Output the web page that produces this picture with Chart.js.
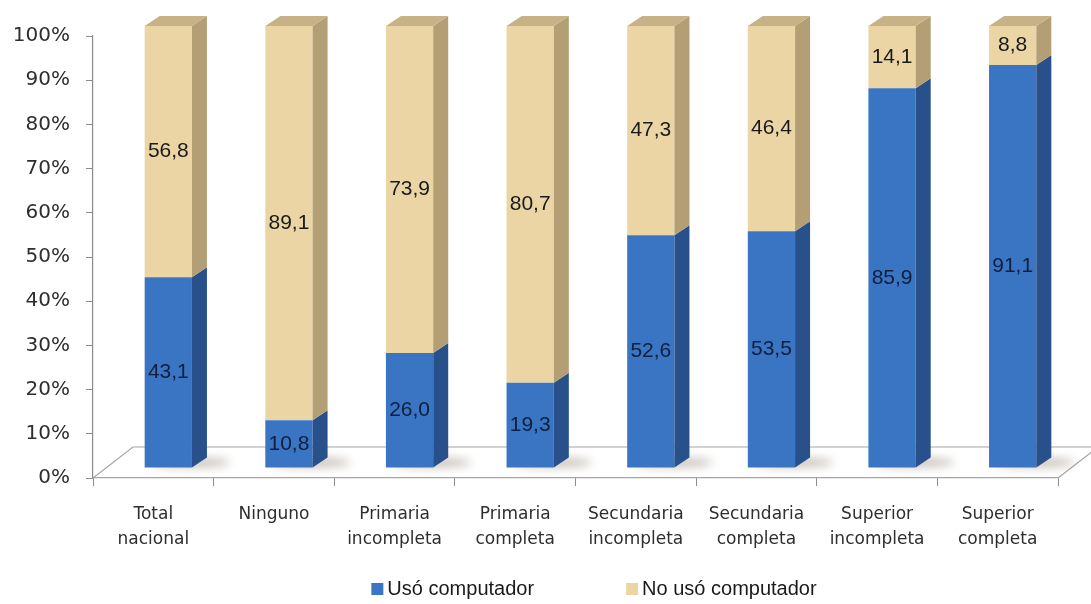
<!DOCTYPE html>
<html>
<head>
<meta charset="utf-8">
<script src="https://cdn.jsdelivr.net/npm/chart.js@4.4.1/dist/chart.umd.min.js"></script>
<style>
  html, body { margin: 0; padding: 0; background: #fff; }
  #wrap { width: 1091px; height: 604px; }
</style>
</head>
<body>
<div id="wrap"><canvas id="chart" width="1091" height="604"></canvas></div>
<script>
// data
const categories = [
    ['Total', 'nacional'], 'Ninguno', ['Primaria', 'incompleta'], ['Primaria', 'completa'],
    ['Secundaria', 'incompleta'], ['Secundaria', 'completa'], ['Superior', 'incompleta'], ['Superior', 'completa']
];
const usoComputador = [43.1, 10.8, 26.0, 19.3, 52.6, 53.5, 85.9, 91.1];
const noUsoComputador = [56.8, 89.1, 73.9, 80.7, 47.3, 46.4, 14.1, 8.8];
const seriesNames = ['Usó computador', 'No usó computador'];

// 100% stacked: share of each category total
const totals = usoComputador.map((v, i) => v + noUsoComputador[i]);
const share = arr => arr.map((v, i) => v / totals[i] * 100);

const DX = 15, DY = 10;            // bar depth
const FLOOR_DX = 40, FLOOR_DY = 31; // floor depth

const faceColors = [
    { front: '#3a75c4', side: '#28518c', top: '#4a85d2', label: '#0f1f3d' },
    { front: '#ebd5a4', side: '#b39f73', top: '#c7b287', label: '#1a1a1a' }
];

const bars3d = {
    id: 'bars3d',
    beforeDatasetsDraw(chart) {
        const { ctx, chartArea: a } = chart;
        ctx.save();
        // floor
        ctx.strokeStyle = '#a6a6a6';
        ctx.lineWidth = 1.2;
        ctx.beginPath();
        ctx.moveTo(a.left, a.bottom);
        ctx.lineTo(a.left + FLOOR_DX, a.bottom - FLOOR_DY);
        ctx.lineTo(a.right + FLOOR_DX, a.bottom - FLOOR_DY);
        ctx.lineTo(a.right, a.bottom);
        ctx.stroke();
        // soft shadows on the floor, falling to the right
        ctx.filter = 'blur(5px)';
        ctx.fillStyle = 'rgba(80,65,40,0.32)';
        chart.getDatasetMeta(0).data.forEach(bar => {
            ctx.beginPath();
            ctx.ellipse(bar.x + DX + 22, bar.base - DY - 5, bar.width / 2 + 16, 5, 0, 0, Math.PI * 2);
            ctx.fill();
        });
        ctx.restore();
        ctx.save();
        ctx.translate(DX, -DY);
    },
    afterDatasetsDraw(chart) {
        const ctx = chart.ctx;
        const last = chart.data.datasets.length - 1;
        chart.data.datasets.forEach((ds, di) => {
            const col = faceColors[di];
            chart.getDatasetMeta(di).data.forEach(bar => {
                const r = bar.x + bar.width / 2, l = bar.x - bar.width / 2;
                const top = Math.min(bar.y, bar.base), bot = Math.max(bar.y, bar.base);
                // right side
                ctx.fillStyle = col.side;
                ctx.beginPath();
                ctx.moveTo(r, top);
                ctx.lineTo(r + DX, top - DY);
                ctx.lineTo(r + DX, bot - DY);
                ctx.lineTo(r, bot);
                ctx.closePath();
                ctx.fill();
                if (di === last) {
                    ctx.fillStyle = col.top;
                    ctx.beginPath();
                    ctx.moveTo(l, top);
                    ctx.lineTo(l + DX, top - DY);
                    ctx.lineTo(r + DX, top - DY);
                    ctx.lineTo(r, top);
                    ctx.closePath();
                    ctx.fill();
                }
            });
        });
        // value labels
        ctx.font = '21px "Liberation Sans", Arial, sans-serif';
        ctx.textAlign = 'center';
        ctx.textBaseline = 'middle';
        const raw = [usoComputador, noUsoComputador];
        chart.data.datasets.forEach((ds, di) => {
            ctx.fillStyle = faceColors[di].label;
            chart.getDatasetMeta(di).data.forEach((bar, i) => {
                ctx.fillText(raw[di][i].toFixed(1).replace('.', ','), bar.x, (bar.y + bar.base) / 2);
            });
        });
        ctx.restore();
    },
    afterDraw(chart) {
        // legend under the axis labels
        const ctx = chart.ctx;
        ctx.save();
        ctx.font = '20px "Liberation Sans", Arial, sans-serif';
        ctx.textBaseline = 'middle';
        const box = 12, gapText = 4, gapItem = 92, cy = 589;
        const widths = chart.data.datasets.map(ds => box + gapText + ctx.measureText(ds.label).width);
        const total = widths.reduce((s, w) => s + w, 0) + gapItem * (widths.length - 1);
        let x = 594 - total / 2;
        chart.data.datasets.forEach((ds, di) => {
            ctx.fillStyle = faceColors[di].front;
            ctx.fillRect(x, cy - box / 2, box, box);
            ctx.fillStyle = '#1a1a1a';
            ctx.fillText(ds.label, x + box + gapText, cy);
            x += widths[di] + gapItem;
        });
        ctx.restore();
    }
};

const chart = new Chart(document.getElementById('chart'), {
    type: 'bar',
    data: {
        labels: categories,
        datasets: [{
            label: seriesNames[0],
            data: share(usoComputador),
            backgroundColor: faceColors[0].front,
            clip: false
        }, {
            label: seriesNames[1],
            data: share(noUsoComputador),
            backgroundColor: faceColors[1].front,
            clip: false
        }]
    },
    options: {
        responsive: false,
        animation: false,
        events: [],
        datasets: {
            bar: {
                barPercentage: 0.4,
                categoryPercentage: 0.98
            }
        },
        layout: {
            padding: { top: 36, right: 33, bottom: 0, left: 0 }
        },
        plugins: {
            legend: { display: false },
            tooltip: { enabled: false }
        },
        scales: {
            x: {
                stacked: true,
                afterFit: scale => { scale.height = 126; },
                grid: {
                    drawOnChartArea: false,
                    offset: true,
                    tickLength: 8,
                    color: '#8c8c8c'
                },
                border: { color: '#a6a6a6', width: 1.2 },
                ticks: {
                    padding: 16,
                    color: '#2e2e2e',
                    maxRotation: 0,
                    autoSkip: false,
                    font: { family: '"DejaVu Sans", Verdana, sans-serif', size: 17, lineHeight: 1.47 }
                }
            },
            y: {
                stacked: true,
                min: 0,
                max: 100,
                afterFit: scale => { scale.width = 93; },
                grid: {
                    drawOnChartArea: false,
                    tickLength: 7,
                    color: '#8c8c8c'
                },
                border: { color: '#8c8c8c', width: 1.2 },
                ticks: {
                    stepSize: 10,
                    padding: 16,
                    color: '#2e2e2e',
                    font: { family: '"DejaVu Sans", Verdana, sans-serif', size: 20 },
                    callback: v => v + '%'
                }
            }
        }
    },
    plugins: [bars3d]
});
</script>
</body>
</html>
